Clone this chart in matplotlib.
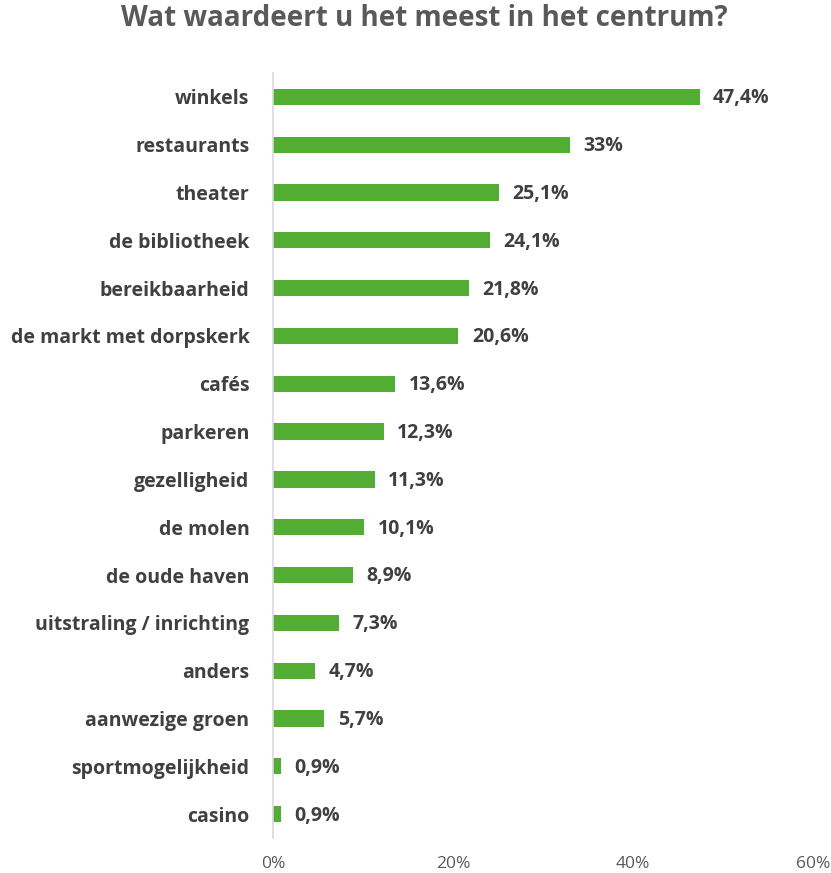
import matplotlib
matplotlib.use("Agg")
import matplotlib.pyplot as plt
from matplotlib.ticker import FuncFormatter

plt.rcParams['font.family'] = ['Open Sans', 'DejaVu Sans']

# data
categories = ["winkels", "restaurants", "theater", "de bibliotheek", "bereikbaarheid",
              "de markt met dorpskerk", "cafés", "parkeren", "gezelligheid", "de molen",
              "de oude haven", "uitstraling / inrichting", "anders", "aanwezige groen",
              "sportmogelijkheid", "casino"]
values = [47.4, 33, 25.1, 24.1, 21.8, 20.6, 13.6, 12.3, 11.3, 10.1, 8.9, 7.3, 4.7, 5.7, 0.9, 0.9]
labels = ["47,4%", "33%", "25,1%", "24,1%", "21,8%", "20,6%", "13,6%", "12,3%", "11,3%",
          "10,1%", "8,9%", "7,3%", "4,7%", "5,7%", "0,9%", "0,9%"]
xticks = [0, 20, 40, 60]

fig = plt.figure(figsize=(8.31, 8.73), dpi=100)
ax = fig.add_axes([273/831, 1 - 838/873, 540/831, (838 - 73)/873])

pos = list(range(len(categories)))
ax.barh(pos, values, height=0.34, color="#52AE32")
for p, v, l in zip(pos, values, labels):
    ax.text(v + 1.5, p + 0.03, l, va="center", ha="left", fontsize=14, fontweight="bold", color="#404040")

ax.set_xlim(0, 60)
ax.set_ylim(len(categories) - 0.5, -0.5)
ax.set_yticks(pos)
ax.set_yticklabels(categories, fontsize=14, fontweight="bold", color="#404040")
ax.set_xticks(xticks)
ax.xaxis.set_major_formatter(FuncFormatter(lambda x, _: f"{int(x)}%"))
ax.tick_params(axis="x", length=0, labelsize=12.5, labelcolor="#595959", pad=13)
ax.tick_params(axis="y", length=0, pad=17)

for s in ["top", "right", "bottom"]:
    ax.spines[s].set_visible(False)
ax.spines["left"].set_color("#D9D9D9")
ax.spines["left"].set_linewidth(1.2)

fig.suptitle("Wat waardeert u het meest in het centrum?", x=0.511, y=0.995, va="top",
             fontsize=20, fontweight="bold", color="#595959")

fig.savefig("out.png", dpi=100)
